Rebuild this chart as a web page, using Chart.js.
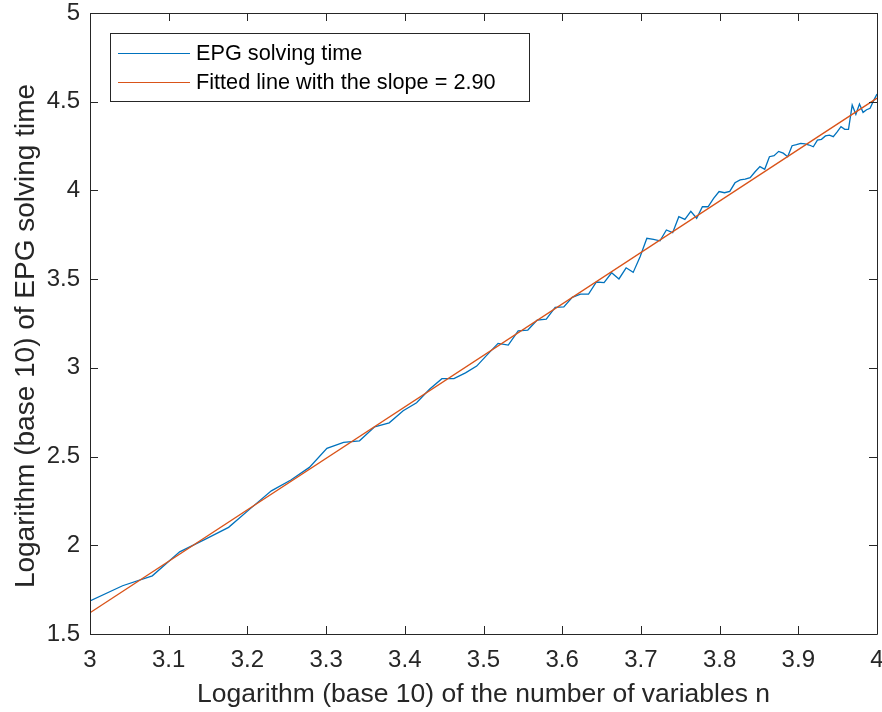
<!DOCTYPE html>
<html>
<head>
<meta charset="utf-8">
<script src="https://cdn.jsdelivr.net/npm/chart.js@4"></script>
<style>
  html, body { margin: 0; padding: 0; background: #fff; }
  #wrap { width: 882px; height: 712px; }
</style>
</head>
<body>
<div id="wrap"><canvas id="chart" width="882" height="712"></canvas></div>
<script>
// number of variables n (x axis shows log10 of n)
const nValues = [
    1000, 1100, 1200, 1300, 1400, 1500, 1600, 1700, 1800, 1900,
    2000, 2100, 2200, 2300, 2400, 2500, 2600, 2700, 2800, 2900,
    3000, 3100, 3200, 3300, 3400, 3500, 3600, 3700, 3800, 3900,
    4000, 4100, 4200, 4300, 4400, 4500, 4600, 4700, 4800, 4900,
    5000, 5100, 5200, 5300, 5400, 5500, 5600, 5700, 5800, 5900,
    6000, 6100, 6200, 6300, 6400, 6500, 6600, 6700, 6800, 6900,
    7000, 7100, 7200, 7300, 7400, 7500, 7600, 7700, 7800, 7900,
    8000, 8100, 8200, 8300, 8400, 8500, 8600, 8700, 8800, 8900,
    9000, 9100, 9200, 9300, 9400, 9500, 9600, 9700, 9800, 9900,
    10000
];

// log10 of EPG solving time
const epgLogTime = [
    1.686, 1.772, 1.828, 1.963, 2.033, 2.101, 2.208, 2.307, 2.368, 2.439,
    2.546, 2.580, 2.589, 2.668, 2.690, 2.758, 2.803, 2.879, 2.939, 2.939,
    2.972, 3.010, 3.076, 3.138, 3.128, 3.209, 3.213, 3.269, 3.275, 3.341,
    3.344, 3.397, 3.416, 3.416, 3.484, 3.480, 3.536, 3.501, 3.564, 3.538,
    3.626, 3.730, 3.724, 3.716, 3.777, 3.762, 3.852, 3.837, 3.882, 3.843,
    3.908, 3.908, 3.955, 3.994, 3.987, 3.995, 4.043, 4.059, 4.064, 4.072,
    4.105, 4.134, 4.119, 4.190, 4.196, 4.220, 4.210, 4.190, 4.252, 4.258,
    4.265, 4.262, 4.256, 4.246, 4.284, 4.288, 4.307, 4.312, 4.303, 4.330,
    4.359, 4.344, 4.344, 4.481, 4.429, 4.487, 4.440, 4.455, 4.463, 4.506,
    4.543
];

// fitted line end points (slope 2.90)
const fitX = [3, 4];
const fitY = [1.62, 4.52];

const xTicks = [3, 3.1, 3.2, 3.3, 3.4, 3.5, 3.6, 3.7, 3.8, 3.9, 4];
const yTicks = [1.5, 2, 2.5, 3, 3.5, 4, 4.5, 5];

const labelEpg = 'EPG solving time';
const labelFit = 'Fitted line with the slope = 2.90';
const xTitle = 'Logarithm (base 10) of the number of variables n';
const yTitle = 'Logarithm (base 10) of EPG solving time';

const FONT = '"Liberation Sans", Arial, Helvetica, sans-serif';
const AXIS_COLOR = '#262626';
const BLUE = '#0072BD';
const ORANGE = '#D95319';

const fmt = v => String(Math.round(v * 10) / 10);

// MATLAB style box with inward ticks, the y label and the legend
const matlabAxes = {
    id: 'matlabAxes',
    afterDatasetsDraw(chart) {
        const ctx = chart.ctx;
        const a = chart.chartArea;
        const xs = chart.scales.x;
        const ys = chart.scales.y;
        const tl = 8;

        ctx.save();
        ctx.strokeStyle = AXIS_COLOR;
        ctx.lineWidth = 1;
        ctx.beginPath();
        ctx.rect(Math.round(a.left) + 0.5, Math.round(a.top) + 0.5,
                 Math.round(a.right - a.left), Math.round(a.bottom - a.top));
        xTicks.forEach(v => {
            const px = Math.round(xs.getPixelForValue(v)) + 0.5;
            ctx.moveTo(px, a.bottom); ctx.lineTo(px, a.bottom - tl);
            ctx.moveTo(px, a.top); ctx.lineTo(px, a.top + tl);
        });
        yTicks.forEach(v => {
            const py = Math.round(ys.getPixelForValue(v)) + 0.5;
            ctx.moveTo(a.left, py); ctx.lineTo(a.left + tl, py);
            ctx.moveTo(a.right, py); ctx.lineTo(a.right - tl, py);
        });
        ctx.stroke();

        // y axis label
        ctx.save();
        ctx.translate(26, 336);
        ctx.rotate(-Math.PI / 2);
        ctx.font = '28px ' + FONT;
        ctx.fillStyle = AXIS_COLOR;
        ctx.textAlign = 'center';
        ctx.textBaseline = 'middle';
        ctx.fillText(yTitle, 0, 0);
        ctx.restore();

        // legend
        const lx = 110.5, ly = 33.5, lw = 419, lh = 68;
        ctx.fillStyle = '#fff';
        ctx.fillRect(lx, ly, lw, lh);
        ctx.strokeRect(lx, ly, lw, lh);
        ctx.font = '21.7px ' + FONT;
        ctx.textBaseline = 'middle';
        ctx.textAlign = 'left';
        chart.data.datasets.forEach((ds, i) => {
            const cy = 53 + i * 29;
            ctx.strokeStyle = ds.borderColor;
            ctx.lineWidth = 1.2;
            ctx.beginPath();
            ctx.moveTo(118, cy + 0.5);
            ctx.lineTo(190, cy + 0.5);
            ctx.stroke();
            ctx.fillStyle = '#000';
            ctx.fillText(ds.label, 196, cy + 1);
        });
        ctx.restore();
    }
};

const epgPoints = nValues.map((n, i) => ({ x: Math.log10(n), y: epgLogTime[i] }));
const fitPoints = fitX.map((x, i) => ({ x: x, y: fitY[i] }));

new Chart(document.getElementById('chart'), {
    type: 'line',
    data: {
        datasets: [
            {
                label: labelEpg,
                data: epgPoints,
                borderColor: BLUE,
                borderWidth: 1.3,
                pointRadius: 0,
                tension: 0,
                order: 1
            },
            {
                label: labelFit,
                data: fitPoints,
                borderColor: ORANGE,
                borderWidth: 1.3,
                pointRadius: 0,
                tension: 0,
                order: 0
            }
        ]
    },
    options: {
        responsive: false,
        animation: false,
        devicePixelRatio: 1,
        layout: { padding: { left: 0, top: 13, right: 5, bottom: 0 } },
        plugins: {
            legend: { display: false },
            tooltip: { enabled: false }
        },
        scales: {
            x: {
                type: 'linear',
                min: 3,
                max: 4,
                afterFit: s => {
                    s.height = 78;
                    s.paddingLeft = 0;
                    s.paddingRight = 0;
                },
                afterBuildTicks: s => { s.ticks = xTicks.map(v => ({ value: v })); },
                grid: { display: false, drawTicks: false },
                border: { display: false },
                ticks: {
                    color: AXIS_COLOR,
                    font: { family: FONT, size: 24 },
                    padding: 12,
                    maxRotation: 0,
                    autoSkip: false,
                    callback: v => fmt(v)
                },
                title: {
                    display: true,
                    text: xTitle,
                    color: AXIS_COLOR,
                    font: { family: FONT, size: 26.5 },
                    padding: { top: 0, bottom: 1 }
                }
            },
            y: {
                type: 'linear',
                min: 1.5,
                max: 5,
                afterFit: s => {
                    s.width = 90;
                    s.paddingTop = 0;
                    s.paddingBottom = 0;
                },
                afterBuildTicks: s => { s.ticks = yTicks.map(v => ({ value: v })); },
                grid: { display: false, drawTicks: false },
                border: { display: false },
                ticks: {
                    color: AXIS_COLOR,
                    font: { family: FONT, size: 24 },
                    padding: 10,
                    autoSkip: false,
                    callback: v => fmt(v)
                },
                title: { display: false }
            }
        }
    },
    plugins: [matlabAxes]
});
</script>
</body>
</html>
